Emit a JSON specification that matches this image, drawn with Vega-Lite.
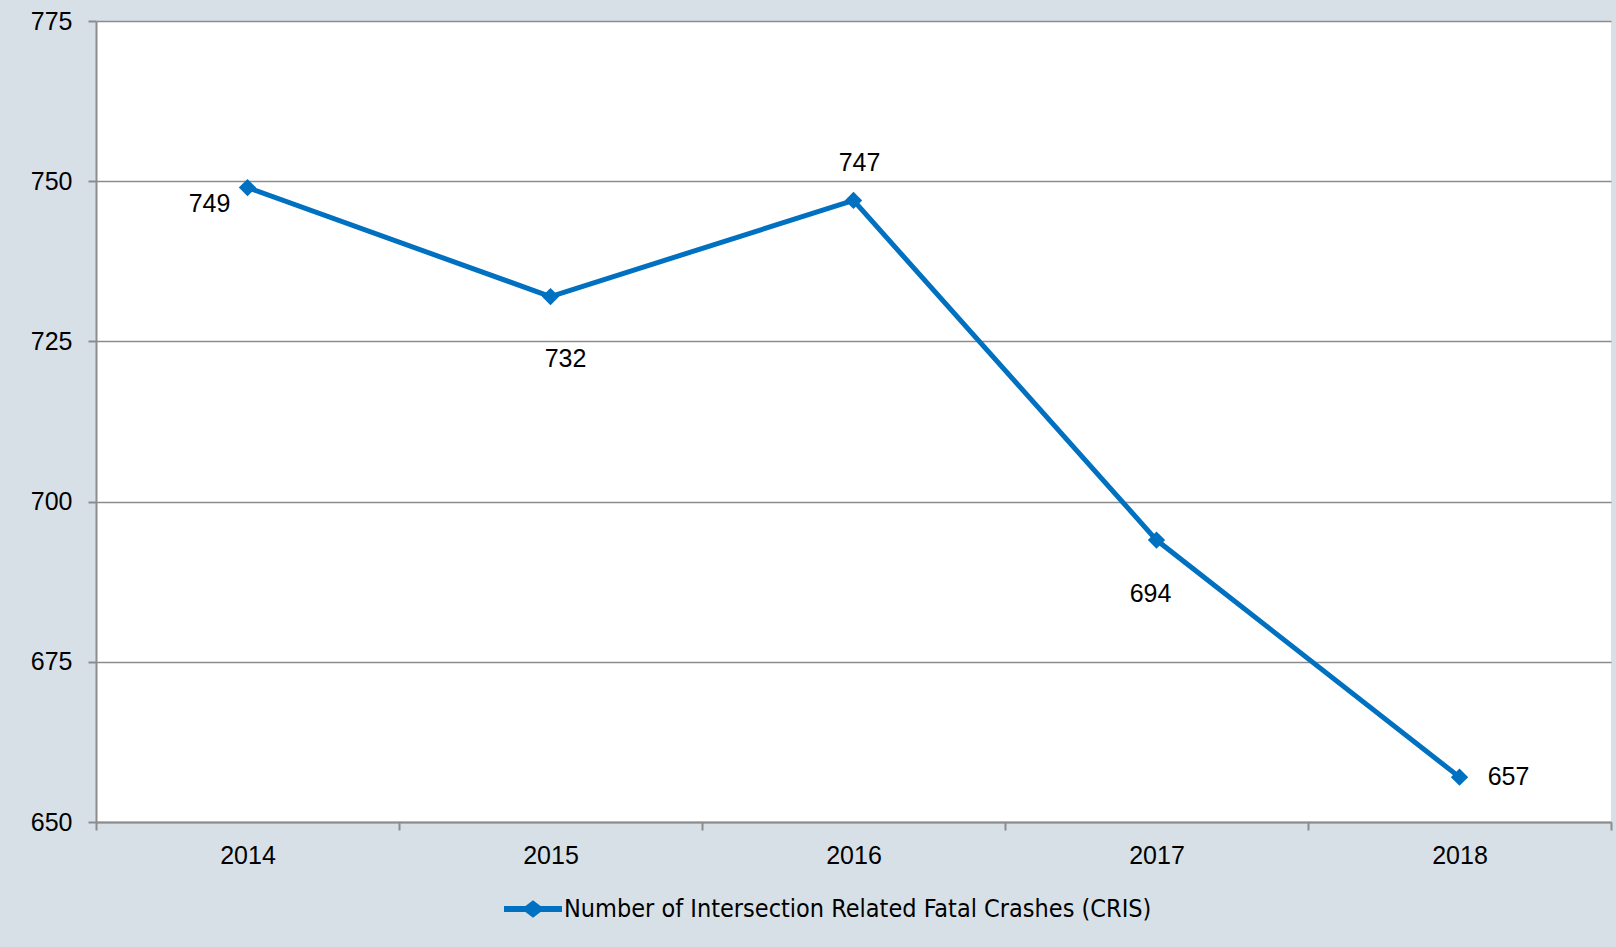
{
  "$schema": "https://vega.github.io/schema/vega-lite/v6.json",
  "width": 1515,
  "height": 801,
  "autosize": {"type": "none"},
  "padding": {"left": 96, "top": 21, "right": 5, "bottom": 125},
  "background": "#d8e0e7",
  "config": {
    "view": {"fill": "white", "stroke": null},
    "font": "Liberation Sans",
    "axis": {
      "labelFont": "Liberation Sans",
      "labelFontSize": 25,
      "labelColor": "black",
      "domainColor": "#8c8c8c",
      "domainWidth": 2,
      "tickColor": "#8c8c8c",
      "tickWidth": 2,
      "tickSize": 8,
      "gridColor": "#8c8c8c",
      "gridWidth": 1.5,
      "title": null
    }
  },
  "data": {
    "values": [
      {"year": "2014", "crashes": 749, "series": "Number of Intersection Related Fatal Crashes (CRIS)"},
      {"year": "2015", "crashes": 732, "series": "Number of Intersection Related Fatal Crashes (CRIS)"},
      {"year": "2016", "crashes": 747, "series": "Number of Intersection Related Fatal Crashes (CRIS)"},
      {"year": "2017", "crashes": 694, "series": "Number of Intersection Related Fatal Crashes (CRIS)"},
      {"year": "2018", "crashes": 657, "series": "Number of Intersection Related Fatal Crashes (CRIS)"}
    ]
  },
  "encoding": {
    "x": {
      "field": "year",
      "type": "ordinal",
      "bandPosition": 0.5,
      "scale": {"type": "band", "paddingInner": 0, "paddingOuter": 0},
      "axis": {"labelAngle": 0, "tickBand": "extent", "grid": false, "labelPadding": 13}
    },
    "y": {
      "field": "crashes",
      "type": "quantitative",
      "scale": {"domain": [650, 775], "nice": false, "zero": false},
      "axis": {"values": [650, 675, 700, 725, 750, 775], "grid": true, "labelPadding": 16}
    }
  },
  "layer": [
    {
      "mark": {"type": "line", "color": "#0070c0", "strokeWidth": 5}
    },
    {
      "mark": {"type": "point", "shape": "diamond", "filled": true, "size": 300, "opacity": 1},
      "encoding": {
        "color": {
          "field": "series",
          "type": "nominal",
          "scale": {"range": ["#0070c0"]},
          "legend": {
            "title": null,
            "orient": "none",
            "legendX": 408,
            "legendY": 859,
            "symbolType": "M-1,-0.1H-0.26L0,-0.3L0.26,-0.1H1V0.1H0.26L0,0.3L-0.26,0.1H-1Z",
            "symbolSize": 3364,
            "symbolStrokeWidth": 0,
            "labelFont": "DejaVu Sans Condensed, Liberation Sans",
            "labelFontSize": 25,
            "labelColor": "black",
            "labelOffset": 2,
            "labelLimit": 1000,
            "encode": {"symbols": {"update": {"size": {"value": 3364}, "strokeWidth": {"value": 0}}}}
          }
        }
      }
    },
    {
      "transform": [{"filter": "datum.year == '2014'"}],
      "mark": {"type": "text", "fontSize": 25, "color": "black", "dx": -38, "dy": 16},
      "encoding": {"text": {"field": "crashes"}}
    },
    {
      "transform": [{"filter": "datum.year == '2015'"}],
      "mark": {"type": "text", "fontSize": 25, "color": "black", "dx": 15, "dy": 62},
      "encoding": {"text": {"field": "crashes"}}
    },
    {
      "transform": [{"filter": "datum.year == '2016'"}],
      "mark": {"type": "text", "fontSize": 25, "color": "black", "dx": 6, "dy": -37},
      "encoding": {"text": {"field": "crashes"}}
    },
    {
      "transform": [{"filter": "datum.year == '2017'"}],
      "mark": {"type": "text", "fontSize": 25, "color": "black", "dx": -6, "dy": 54},
      "encoding": {"text": {"field": "crashes"}}
    },
    {
      "transform": [{"filter": "datum.year == '2018'"}],
      "mark": {"type": "text", "fontSize": 25, "color": "black", "dx": 49, "dy": 0},
      "encoding": {"text": {"field": "crashes"}}
    }
  ]
}
